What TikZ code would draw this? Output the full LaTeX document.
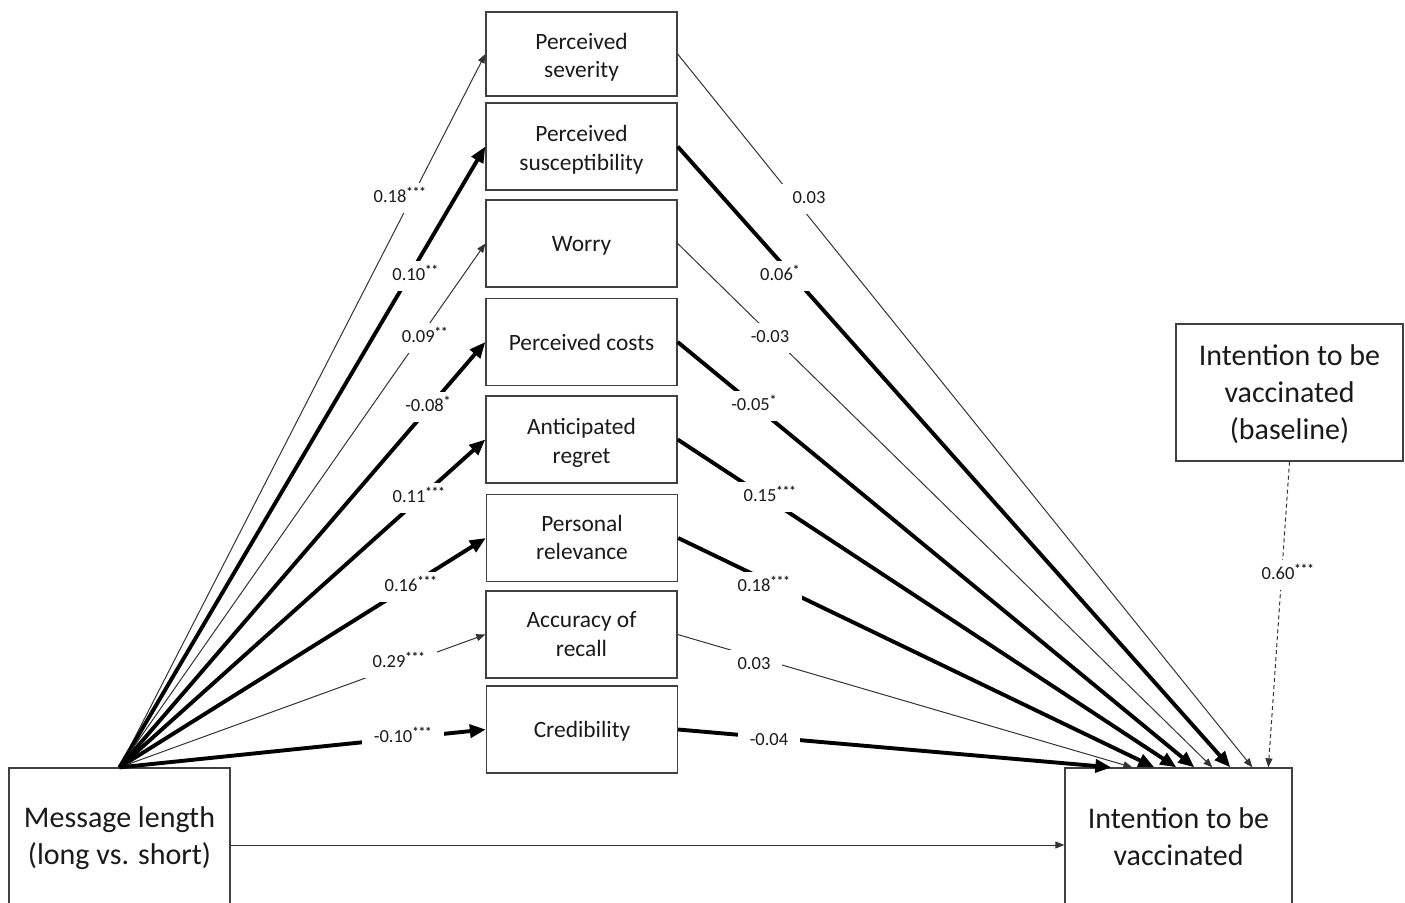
\documentclass[tikz,border=0pt]{standalone}
\usepackage{fontspec}
\setmainfont{Carlito}
\usetikzlibrary{arrows.meta}
\definecolor{boxline}{HTML}{404040}
\definecolor{thinline}{HTML}{333333}
\definecolor{txt}{HTML}{1A1A1A}
\newcommand{\boxtxt}[2][4pt]{\raisebox{-#1}[\height][\depth]{\begin{tabular}{@{}c@{}}#2\end{tabular}}}
\newcommand{\sig}[1]{\textsuperscript{\textbf{#1}}}
\begin{document}
\begin{tikzpicture}[x=1pt,y=-1pt,
  box/.style={draw=boxline, line width=1.3pt, minimum width=191pt, minimum height=87pt, inner sep=0pt, align=center, text=txt, font=\fontsize{23.4}{28.5}\selectfont},
  bigbox/.style={draw=boxline, line width=1.3pt, inner sep=0pt, align=center, text=txt, font=\fontsize{30}{37}\selectfont},
  thickarrow/.style={line width=3.9pt, -{Triangle[length=16pt,width=13pt]}},
  thinarrow/.style={line width=1pt, draw=thinline, -{Triangle[length=9pt,width=7pt]}},
  coef/.style={fill=white, yshift=-2pt, inner xsep=12pt, inner ysep=0pt, minimum height=30pt, text height=13pt, text depth=4pt, text=txt, font=\fontsize{18.5}{22}\selectfont}
]
\clip (0,0) rectangle (1405,902);
\fill[white] (0,0) rectangle (1405,902);

% mediator boxes
\node[box, minimum height=84pt] (sev)  at (581.5,54)    {\boxtxt{Perceived\\severity}};
\node[box] (sus)  at (581.5,146.5) {\boxtxt{Perceived\\susceptibility}};
\node[box] (wor)  at (581.5,243.5) {\boxtxt[2pt]{Worry}};
\node[box] (cost) at (581.5,342)   {\boxtxt[3pt]{Perceived costs}};
\node[box] (reg)  at (581.5,439.5) {\boxtxt{Anticipated\\regret}};
\node[box] (rel)  at (582,538)     {\boxtxt[2pt]{Personal\\relevance}};
\node[box] (acc)  at (581.5,634.5) {\boxtxt[2pt]{Accuracy of\\recall}};
\node[box] (cred) at (582,729.5)   {\boxtxt[2pt]{Credibility}};

% main boxes
\node[bigbox, minimum width=221pt, minimum height=136pt] (msg) at (119.5,836) {\boxtxt[3pt]{Message length\\(long vs. short)}};
\node[bigbox, minimum width=227pt, minimum height=136pt] (intent) at (1178.5,836) {\boxtxt[4pt]{Intention to be\\vaccinated}};
\node[bigbox, minimum width=227pt, minimum height=137pt] (base) at (1289.5,392.5) {\boxtxt[3pt]{Intention to be\\vaccinated\\(baseline)}};

% a paths
\draw[thinarrow]  (msg.north) -- (sev.west);
\draw[thickarrow] (msg.north) -- (sus.west);
\draw[thinarrow]  (msg.north) -- (wor.west);
\draw[thickarrow] (msg.north) -- (cost.west);
\draw[thickarrow] (msg.north) -- (reg.west);
\draw[thickarrow] (msg.north) -- (rel.west);
\draw[thinarrow]  (msg.north) -- (acc.west);
\draw[thickarrow] (msg.north) -- (cred.west);

% b paths
\draw[thinarrow]  (sev.east)  -- ([xshift=188pt]intent.north west);
\draw[thickarrow] (sus.east)  -- ([xshift=166pt]intent.north west);
\draw[thinarrow]  (wor.east)  -- ([xshift=148pt]intent.north west);
\draw[thickarrow] (cost.east) -- ([xshift=130pt]intent.north west);
\draw[thickarrow] (reg.east)  -- ([xshift=112pt]intent.north west);
\draw[thickarrow] (rel.east)  -- ([xshift=90pt]intent.north west);
\draw[thinarrow]  (acc.east)  -- ([xshift=68pt]intent.north west);
\draw[thickarrow] (cred.east) -- ([xshift=47pt]intent.north west);
\draw[thinarrow, dash pattern=on 4pt off 3pt] (base.south) -- ([xshift=204pt]intent.north west);

% c path
\draw[thinarrow] ([yshift=-9pt]msg.east) -- ([yshift=-9pt]intent.west);

% coefficients left
\node[coef] (l1) at (400,196) {0.18\sig{***}};
\node[coef] (l2) at (415.5,274) {0.10\sig{**}};
\node[coef] (l3) at (425,336) {0.09\sig{**}};
\node[coef] (l4) at (428,405) {-0.08\sig{*}};
\node[coef] (l5) at (419,496) {0.11\sig{***}};
\node[coef] (l6) at (411,585) {0.16\sig{***}};
\node[coef] (l7) at (399,661) {0.29\sig{***}};
\node[coef] (l8) at (403,736) {-0.10\sig{***}};
% coefficients right
\node[coef] (r1) at (809,197) {0.03};
\node[coef] (r2) at (780,274) {0.06\sig{*}};
\node[coef] (r3) at (770,336) {-0.03};
\node[coef] (r4) at (754,404) {-0.05\sig{*}};
\node[coef] (r5) at (770,495) {0.15\sig{***}};
\node[coef] (r6) at (764,585) {0.18\sig{***}};
\node[coef] (r7) at (754,663) {0.03};
\node[coef] (r8) at (769,739) {-0.04};
\node[coef] (r9) at (1288,573) {0.60\sig{***}};
\end{tikzpicture}
\end{document}
